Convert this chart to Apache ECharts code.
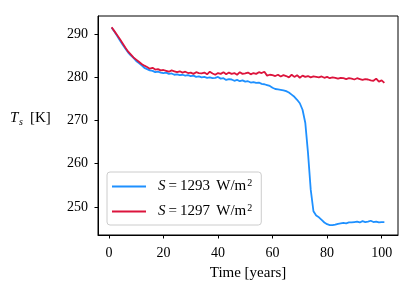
<!DOCTYPE html>
<html><head><meta charset="utf-8">
<script src="https://cdn.jsdelivr.net/npm/echarts@6/dist/echarts.min.js"></script>
<style>html,body{margin:0;padding:0;background:#fff}#c{width:415px;height:294px}</style>
</head><body><div id="c"></div>
<script>
const years = [];
for (let i = 1; i <= 101; i++) years.push(i);
const xTicks = [0, 20, 40, 60, 80, 100];
const yTicks = [250, 260, 270, 280, 290];
const blueS1293 = [291.5,290.6,289.6,288.6,287.6,286.7,285.8,285.1,284.5,283.8,
283.3,282.8,282.2,281.9,281.6,281.5,281.2,281.3,281.1,281.0,
281.1,280.8,280.9,280.6,280.7,280.5,280.6,280.4,280.5,280.3,
280.4,280.1,280.2,280.0,280.1,279.9,280.0,279.8,279.9,280.1,
279.7,279.8,279.4,279.6,279.5,279.2,279.4,279.1,279.3,279.0,
279.1,278.8,278.9,278.7,278.8,278.5,278.4,278.2,278.0,277.6,
277.3,277.2,277.1,277.0,276.8,276.5,276.0,275.5,274.8,274.0,
272.5,269.5,262.5,254.0,249.0,248.0,247.6,247.0,246.4,246.0,
245.8,245.8,245.9,246.1,246.2,246.3,246.2,246.4,246.4,246.5,
246.6,246.4,246.7,246.5,246.6,246.8,246.5,246.6,246.4,246.5,246.5];
const redS1297 = [291.6,290.7,289.8,288.9,287.9,286.9,286.0,285.3,284.6,284.1,
283.6,283.1,282.7,282.4,282.0,282.2,281.8,281.9,281.6,281.7,
281.5,281.3,281.6,281.4,281.2,281.4,281.1,281.3,281.0,281.1,
280.8,281.2,281.0,280.9,281.1,280.7,281.3,280.9,280.6,281.0,
280.8,281.2,280.7,281.1,280.8,281.0,280.6,281.2,280.8,280.9,
281.1,280.7,281.0,280.8,281.2,281.0,281.3,280.4,280.6,280.5,
280.3,280.6,280.2,280.5,280.3,280.0,280.6,280.1,280.5,279.9,
280.4,280.1,280.3,280.0,280.2,280.1,280.0,280.2,279.9,280.1,
279.8,280.0,279.9,279.7,279.9,279.8,279.6,279.8,279.7,279.5,
279.8,279.6,279.4,279.6,279.5,279.3,279.2,279.7,279.0,279.3,278.7];
const seriesNames = ['S1293', 'S1297'];
const legendValues = {S1293: '1293', S1297: '1297'};

const FONT = 'Liberation Serif';
const chart = echarts.init(document.getElementById('c'), null, {renderer: 'canvas'});
const legendRich = {
  i: {fontStyle: 'italic', fontFamily: FONT, fontSize: 15, color: '#000'},
  eq: {fontFamily: FONT, fontSize: 15, color: '#000', padding: [0, 3, 0, 3]},
  n: {fontFamily: FONT, fontSize: 15, color: '#000'},
  sp: {fontFamily: FONT, fontSize: 15, color: '#000', padding: [0, 3, 0, 0]},
  sup: {fontFamily: FONT, fontSize: 10, color: '#000', verticalAlign: 'top', padding: [0, 0, 7, 1]}
};
chart.setOption({
  animation: false,
  grid: {left: 98, right: 17, top: 16, bottom: 59, show: true, borderColor: '#000', borderWidth: 1, backgroundColor: 'transparent'},
  xAxis: {
    type: 'value', min: -4, max: 106,
    name: 'Time [years]', nameLocation: 'middle', nameGap: 31,
    nameTextStyle: {fontFamily: FONT, fontSize: 15, color: '#000'},
    axisLine: {show: true, onZero: false, lineStyle: {color: '#000', width: 1}},
    axisTick: {show: true, length: 3.5, customValues: xTicks, lineStyle: {color: '#000'}},
    axisLabel: {customValues: xTicks, fontFamily: FONT, fontSize: 14, color: '#000', margin: 11},
    splitLine: {show: false}
  },
  yAxis: {
    type: 'value', min: 243.5, max: 294.2,
    axisLine: {show: true, onZero: false, lineStyle: {color: '#000', width: 1}},
    axisTick: {show: true, length: 3.5, customValues: yTicks, lineStyle: {color: '#000'}},
    axisLabel: {customValues: yTicks, fontFamily: FONT, fontSize: 14, color: '#000', margin: 10},
    splitLine: {show: false}
  },
  legend: {
    orient: 'vertical', left: 107, top: 172,
    itemWidth: 34, itemHeight: 2.2, itemGap: 9,
    padding: [6, 9, 6, 5],
    borderColor: '#cccccc', borderWidth: 1, borderRadius: 3,
    backgroundColor: 'rgba(255,255,255,0.8)',
    icon: 'rect',
    data: seriesNames,
    formatter: function (n) {
      return '{i|S}{eq|=}{sp|' + legendValues[n] + '} {n|W/m}{sup|2}';
    },
    textStyle: {rich: legendRich, padding: [0, 0, 0, 7]}
  },
  graphic: [
    {type: 'text', left: 10, top: 111, style: {text: 'T', font: 'italic 15px "Liberation Serif"', fill: '#000'}},
    {type: 'text', left: 19, top: 117, style: {text: 's', font: 'italic 10px "Liberation Serif"', fill: '#000'}},
    {type: 'text', left: 30, top: 111, style: {text: '[K]', font: '15px "Liberation Serif"', fill: '#000'}}
  ],
  series: [
    {name: 'S1293', type: 'line', data: years.map((x, i) => [x, blueS1293[i]]), showSymbol: false, lineStyle: {color: '#1e90ff', width: 1.8}, itemStyle: {color: '#1e90ff'}},
    {name: 'S1297', type: 'line', data: years.map((x, i) => [x, redS1297[i]]), showSymbol: false, lineStyle: {color: '#dc143c', width: 1.8}, itemStyle: {color: '#dc143c'}}
  ]
});
</script></body></html>
